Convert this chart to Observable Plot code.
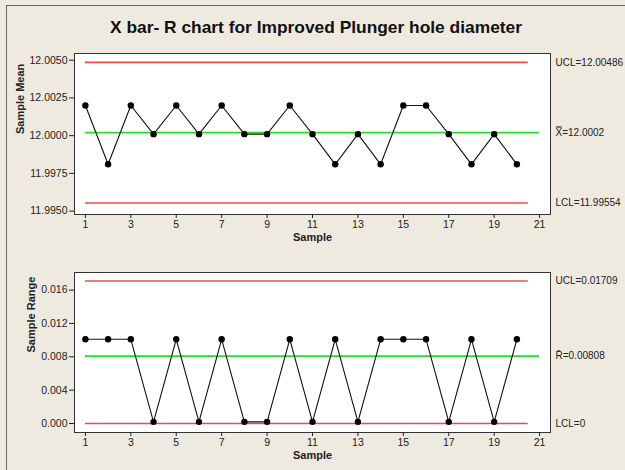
<!DOCTYPE html>
<html>
<head>
<meta charset="utf-8">
<script src="https://cdn.jsdelivr.net/npm/d3@7"></script>
<script src="https://cdn.jsdelivr.net/npm/@observablehq/plot@0.6"></script>
<style>
  html, body { margin: 0; padding: 0; }
  body { width: 625px; height: 470px; background: #EEEAE0; position: relative; overflow: hidden; font-family: "Liberation Sans", Arial, sans-serif; }
  #border { position: absolute; left: 6px; top: 5px; width: 640px; height: 480px; border-top: 1px solid #666; border-left: 1px solid #666; }
  #title { position: absolute; left: 0; top: 0; }
  .panel { position: absolute; left: 0; }
</style>
</head>
<body>
<div id="border"></div>
<svg id="title" width="625" height="45">
  <text x="316" y="33" text-anchor="middle" font-family="Liberation Sans, Arial, sans-serif" font-weight="bold" font-size="17" textLength="412" lengthAdjust="spacingAndGlyphs" fill="#111">X bar- R chart for Improved Plunger hole diameter</text>
</svg>
<div id="top" class="panel" style="top:40px"></div>
<div id="bottom" class="panel" style="top:260px"></div>
<script>
// ---- data ----
const samples = [1,2,3,4,5,6,7,8,9,10,11,12,13,14,15,16,17,18,19,20];
const sampleMeans = [12.0020,11.9981,12.0020,12.0001,12.0020,12.0001,12.0020,12.0001,12.0001,12.0020,
                     12.0001,11.9981,12.0001,11.9981,12.0020,12.0020,12.0001,11.9981,12.0001,11.9981];
const sampleRanges = [0.0101,0.0101,0.0101,0.0002,0.0101,0.0002,0.0101,0.0002,0.0002,0.0101,
                      0.0002,0.0101,0.0002,0.0101,0.0101,0.0101,0.0002,0.0101,0.0002,0.0101];
const meanLimits = {ucl: 12.00486, center: 12.0002, lcl: 11.99554};
const rangeLimits = {ucl: 0.01709, center: 0.00808, lcl: 0};
const meanLabels = ["UCL=12.00486", "X\u033F=12.0002", "LCL=11.99554"];
const rangeLabels = ["UCL=0.01709", "R\u0304=0.00808", "LCL=0"];
const xTicks = [1,3,5,7,9,11,13,15,17,19,21];
const meanTicks = [11.995, 11.9975, 12.0, 12.0025, 12.005];
const rangeTicks = [0, 0.004, 0.008, 0.012, 0.016];

const RED = "#F24A4A", GREEN = "#22E022";
const FONT = "Liberation Sans, Arial, sans-serif";

function panel({values, limits, labels, yDomain, yTicks, yFormat, yLabel, yLabelDx, marginTop, marginBottom}) {
  const data = samples.map((s, i) => ({s, v: values[i]}));
  const limitRows = [
    {v: limits.ucl, x2: 20.5, c: RED, t: labels[0]},
    {v: limits.center, x2: 21, c: GREEN, t: labels[1]},
    {v: limits.lcl, x2: 20.5, c: RED, t: labels[2]}
  ];
  return Plot.plot({
    width: 625, height: 210,
    marginLeft: 74, marginRight: 75, marginTop, marginBottom,
    style: {background: "transparent", fontFamily: FONT, fontSize: "10.5px", color: "#222", overflow: "visible"},
    x: {domain: [0.52, 21.48]},
    y: {domain: yDomain},
    marks: [
      Plot.frame({fill: "white", stroke: "none"}),
      Plot.ruleY(limitRows, {y: "v", x1: 1, x2: "x2", stroke: "c", strokeWidth: 1.6}),
      Plot.line(data, {x: "s", y: "v", stroke: "#111", strokeWidth: 1.1}),
      Plot.dot(data, {x: "s", y: "v", r: 3.2, fill: "#000", stroke: "none"}),
      Plot.frame({stroke: "#333", strokeWidth: 1}),
      Plot.text(limitRows, {y: "v", x: 21.48, text: "t", dx: 5, textAnchor: "start", fontSize: 10, fill: "#222"}),
      Plot.axisY({ticks: yTicks, tickFormat: yFormat, tickSize: 5, tickPadding: 2, label: null, fontSize: 10.5}),
      Plot.axisX({ticks: xTicks, tickFormat: d3.format("d"), tickSize: 4, tickPadding: 2, label: null, fontSize: 10.5}),
      Plot.text([yLabel], {frameAnchor: "left", rotate: -90, dx: yLabelDx, fontWeight: "bold", fontSize: 11, fill: "#222"}),
      Plot.text(["Sample"], {frameAnchor: "bottom", dy: 26, fontWeight: "bold", fontSize: 11, fill: "#222"})
    ]
  });
}

document.getElementById("top").append(panel({
  values: sampleMeans, limits: meanLimits, labels: meanLabels,
  yDomain: [11.994774, 12.005446], yTicks: meanTicks, yFormat: d3.format(".4f"),
  yLabel: "Sample Mean", yLabelDx: -54, marginTop: 13, marginBottom: 36
}));
document.getElementById("bottom").append(panel({
  values: sampleRanges, limits: rangeLimits, labels: rangeLabels,
  yDomain: [-0.00108, 0.018111], yTicks: rangeTicks, yFormat: d3.format(".3f"),
  yLabel: "Sample Range", yLabelDx: -43, marginTop: 12, marginBottom: 38
}));
</script>
</body>
</html>
